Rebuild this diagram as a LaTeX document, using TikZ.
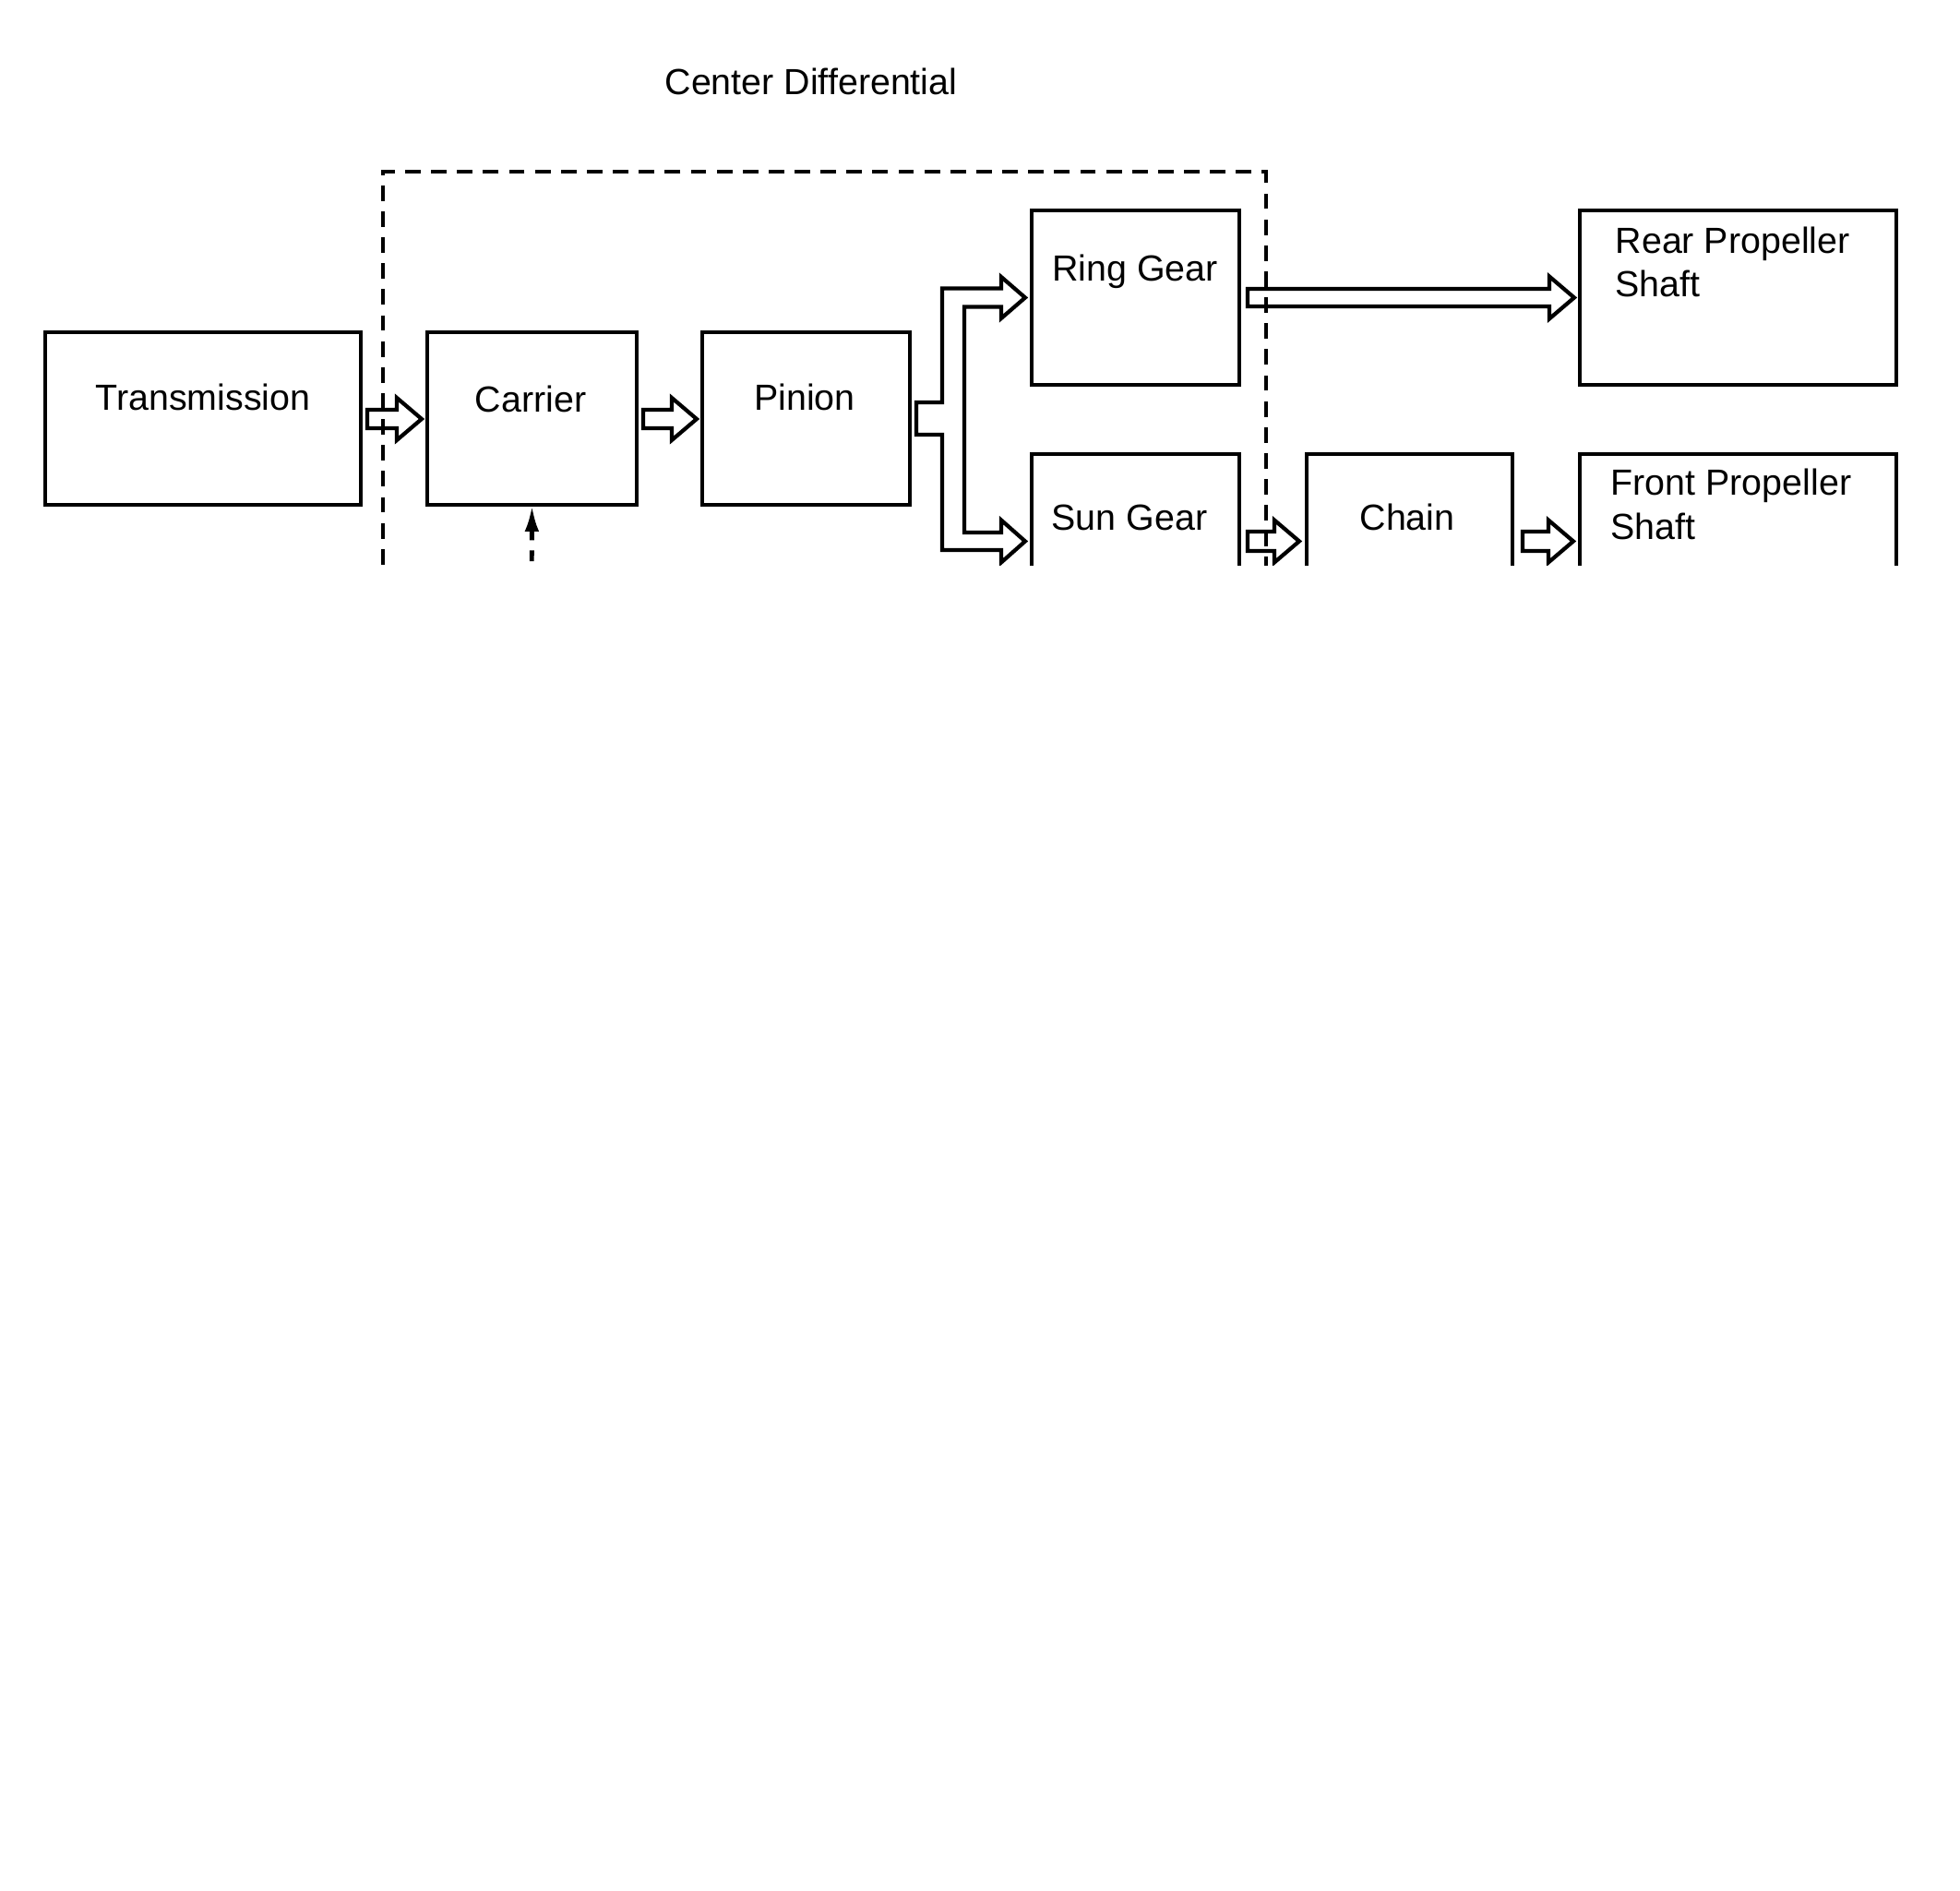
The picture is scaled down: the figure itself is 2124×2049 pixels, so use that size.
\documentclass[tikz,border=0pt]{standalone}
\usepackage{fontspec}
\setmainfont{Liberation Sans}
\usetikzlibrary{calc,arrows.meta}
\begin{document}
\begin{tikzpicture}[x=0.01cm,y=-0.01cm,
  box/.style={draw=black,line width=1.3pt,rectangle,inner sep=0pt,outer sep=0pt},
  lbl/.style={font=\fontsize{11.2pt}{13.4pt}\selectfont,inner sep=0pt,anchor=base},
  lbll/.style={lbl,anchor=base west},
  harrow/.style={draw=black,line width=1.2pt,line join=miter,fill=none},
  groupbox/.style={draw=black,line width=1.1pt,dash pattern=on 4.8pt off 3.2pt,rectangle,inner sep=0pt,outer sep=0pt},
  ctrlarrow/.style={draw=black,line width=1.4pt,dash pattern=on 3.4pt off 3.1pt,{Latex[length=8.2pt,width=4.4pt]}-}
]
\useasboundingbox[fill=white] (0,0) rectangle (2124,2049);
\newcommand\hollowarrow[4]{% start, tip, shaft half height, head half height
  \draw[harrow] ($(#1)+(0,-#3)$) -- ($(#2)+(-27,-#3)$) -- ($(#2)+(-27,-#4)$) -- (#2)
    -- ($(#2)+(-27,#4)$) -- ($(#2)+(-27,#3)$) -- ($(#1)+(0,#3)$) -- cycle;}
\begin{scope}
\clip (0,0) rectangle (2124,613);
% title
\node[lbl] (title) at (879,103) {Center Differential};
% dashed group box
\node[groupbox,minimum width=9.56cm,minimum height=8cm,anchor=north west] (cdiff) at (415,185.6) {};
% boxes
\node[box,minimum width=3.42cm,minimum height=1.87cm] (trans) at (220,453.5) {};
\node[box,minimum width=2.27cm,minimum height=1.87cm] (carrier) at (576.5,453.5) {};
\node[box,minimum width=2.25cm,minimum height=1.87cm] (pinion) at (873.5,453.5) {};
\node[box,minimum width=2.25cm,minimum height=1.89cm] (ring) at (1230.5,322.5) {};
\node[box,minimum width=3.43cm,minimum height=1.89cm] (rear) at (1883.5,322.5) {};
\node[box,minimum width=2.25cm,minimum height=1.89cm] (sun) at (1230.5,586.5) {};
\node[box,minimum width=2.23cm,minimum height=1.89cm] (chain) at (1527.5,586.5) {};
\node[box,minimum width=3.43cm,minimum height=1.89cm] (front) at (1883.5,586.5) {};
% labels
\node[lbl] (ttrans) at (220,445) {Transmission};
\node[lbl] (tcarrier) at (575,447) {Carrier};
\node[lbl] (tpinion) at (872,445) {Pinion};
\node[lbl] (tring) at (1230,305) {Ring Gear};
\node[lbll] (trear1) at (1750,275) {Rear Propeller};
\node[lbll] (trear2) at (1750,322) {Shaft};
\node[lbl] (tsun) at (1224,575) {Sun Gear};
\node[lbl] (tchain) at (1525,575) {Chain};
\node[lbll] (tfront1) at (1745,537) {Front Propeller};
\node[lbll] (tfront2) at (1745,585) {Shaft};
% arrow end points
\coordinate (a1s) at ($(trans.east)+(7,0.5)$);
\coordinate (a1e) at ($(carrier.west)+(-6,0.5)$);
\coordinate (a2s) at ($(carrier.east)+(7,0.5)$);
\coordinate (a2e) at ($(pinion.west)+(-6,0.5)$);
\coordinate (a3s) at ($(ring.east)+(9,0)$);
\coordinate (a3e) at ($(rear.west)+(-6,0)$);
\coordinate (a4s) at ($(sun.east)+(9,0)$);
\coordinate (a4e) at ($(chain.west)+(-8,0)$);
\coordinate (a5s) at ($(chain.east)+(11,0)$);
\coordinate (a5e) at ($(front.west)+(-7,0)$);
\hollowarrow{a1s}{a1e}{10}{23}
\hollowarrow{a2s}{a2e}{10}{23}
\hollowarrow{a3s}{a3e}{9.5}{23}
\hollowarrow{a4s}{a4e}{10.5}{23}
\hollowarrow{a5s}{a5e}{10.5}{23}
% branching arrow from pinion to ring gear and sun gear
\coordinate (ps) at ($(pinion.east)+(7,0)$);
\coordinate (rt) at ($(ring.west)+(-7,0)$);
\coordinate (st) at ($(sun.west)+(-7,0)$);
\coordinate (xo) at ($(rt)+(-90,0)$);
\coordinate (xi) at ($(rt)+(-66,0)$);
\coordinate (xh) at ($(rt)+(-26,0)$);
\draw[harrow] ($(ps)+(0,-17.5)$) coordinate (b1)
  -- (xo |- b1)
  -- ($(xo |- rt)+(0,-10)$)
  -- ($(xh |- rt)+(0,-10)$)
  -- ($(xh |- rt)+(0,-22.5)$)
  -- (rt)
  -- ($(xh |- rt)+(0,22.5)$)
  -- ($(xh |- rt)+(0,10)$)
  -- ($(xi |- rt)+(0,10)$)
  -- ($(xi |- st)+(0,-9.5)$)
  -- ($(xh |- st)+(0,-9.5)$)
  -- ($(xh |- st)+(0,-23)$)
  -- (st)
  -- ($(xh |- st)+(0,23)$)
  -- ($(xh |- st)+(0,9.5)$)
  -- ($(xo |- st)+(0,9.5)$)
  -- ($(xo |- ps)+(0,17.5)$)
  -- ($(ps)+(0,17.5)$) -- cycle;
% control input to carrier (from below)
\coordinate (cin) at ($(carrier.south)+(-1,250)$);
\draw[ctrlarrow] (carrier.south) -- (cin);
\end{scope}
\end{tikzpicture}
\end{document}
